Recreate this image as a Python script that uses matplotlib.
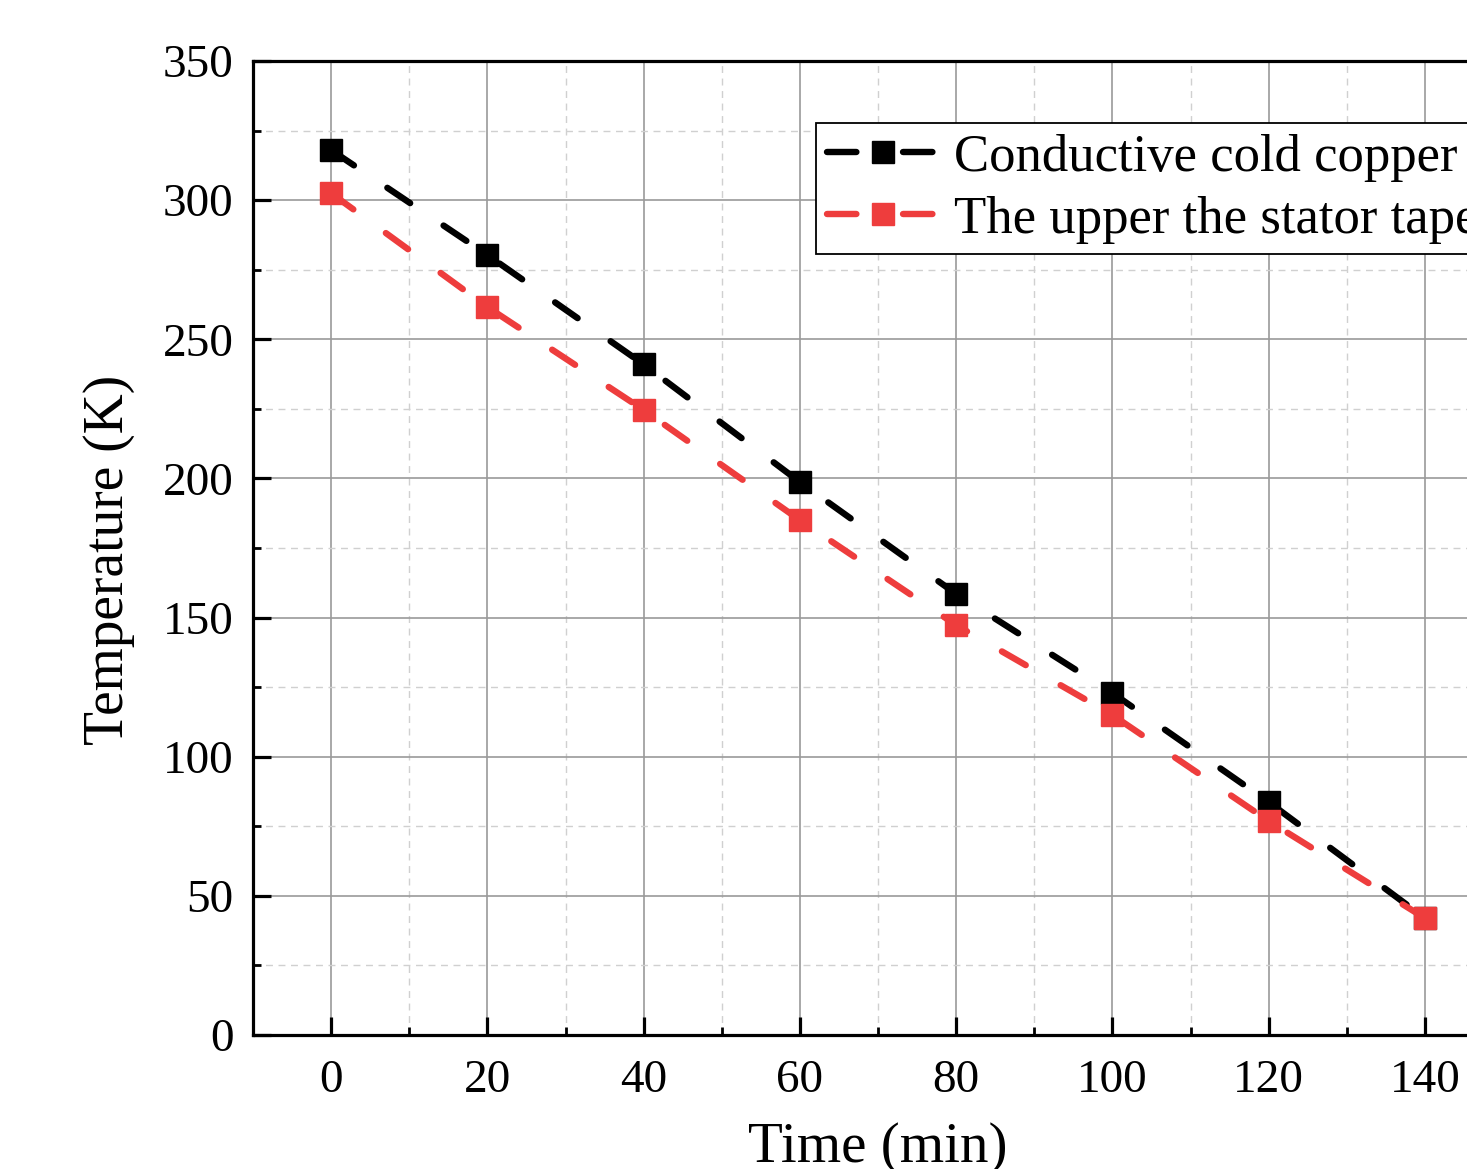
import matplotlib
matplotlib.use("Agg")
import matplotlib.pyplot as plt
from matplotlib.ticker import MultipleLocator
from matplotlib.legend_handler import HandlerLine2D

time_min = [0, 20, 40, 60, 80, 100, 120, 140]
copper_K = [318, 280.3, 241, 198.7, 158.5, 122.9, 83.7, 42]
stator_K = [302.5, 261.6, 224.6, 185, 147.3, 115, 76.9, 42]
labels = ["Conductive cold copper", "The upper the stator tape"]
colors = ["#000000", "#EE3D3D"]

plt.rcParams['font.family'] = ['Liberation Serif', 'DejaVu Serif']

W, H = 1467, 1169
fig = plt.figure(figsize=(W / 100, H / 100), dpi=100)
left, right, top, bottom = 253, 1503, 61, 1035
ax = fig.add_axes([left / W, 1 - bottom / H, (right - left) / W, (bottom - top) / H])

lines = []
for y, lab, c in zip([copper_K, stator_K], labels, colors):
    ln, = ax.plot(time_min, y, color=c, lw=4.6, marker='s', markersize=16,
                  label=lab, dash_capstyle='round', zorder=3)
    ln.set_dashes((4.3, 6.3))
    lines.append(ln)

ax.set_xlim(-10, 150)
ax.set_ylim(0, 350)
ax.xaxis.set_major_locator(MultipleLocator(20))
ax.xaxis.set_minor_locator(MultipleLocator(10))
ax.yaxis.set_major_locator(MultipleLocator(50))
ax.yaxis.set_minor_locator(MultipleLocator(25))

ax.grid(which='major', color='#9a9a9a', lw=1.2, ls='-', zorder=0)
ax.grid(which='minor', color='#d0d0d0', lw=1.0, ls=(0, (5, 4)), zorder=0)
ax.set_axisbelow(True)

ax.tick_params(which='major', direction='in', length=13, width=2.3, labelsize=34, pad=14)
ax.tick_params(which='minor', direction='in', length=6, width=2.0)
ax.tick_params(axis='x', which='major', pad=18)
for s in ax.spines.values():
    s.set_linewidth(2.3)

ax.set_xlabel("Time (min)", fontsize=41, labelpad=14)
ax.set_ylabel("Temperature (K)", fontsize=40)
ax.yaxis.set_label_coords(-0.094, 0.488)


def _legend_dash(legline, orig):
    legline.update_from(orig)
    legline.set_dashes((4.6, 7.3))


hm = {ln: HandlerLine2D(update_func=_legend_dash) for ln in lines}
leg = ax.legend(loc='upper left', bbox_to_anchor=(816 / W, 1 - 123 / H),
                bbox_transform=fig.transFigure, fontsize=38, frameon=True,
                fancybox=False, edgecolor='black', borderaxespad=0,
                borderpad=0.2, handlelength=2.15, handletextpad=0.27,
                labelspacing=0.27, framealpha=1, handler_map=hm)
leg.get_frame().set_linewidth(1.3)

fig.savefig("out.png", dpi=100)
